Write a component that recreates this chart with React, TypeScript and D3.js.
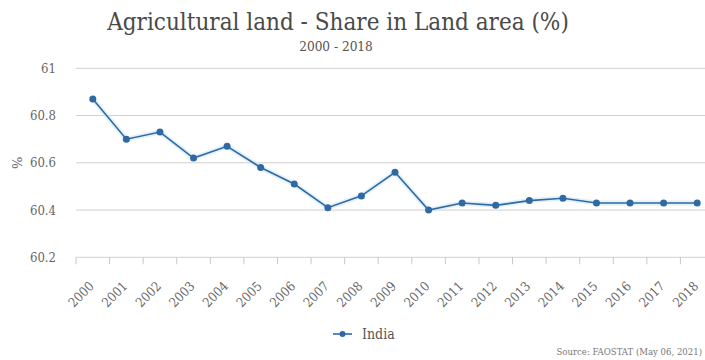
import React from "react";
import * as d3 from "d3";

const years = ["2000","2001","2002","2003","2004","2005","2006","2007","2008","2009","2010","2011","2012","2013","2014","2015","2016","2017","2018"];
const india = [60.87,60.70,60.73,60.62,60.67,60.58,60.51,60.41,60.46,60.56,60.40,60.43,60.42,60.44,60.45,60.43,60.43,60.43,60.43];
const yTicks = [60.2, 60.4, 60.6, 60.8, 61];

const W = 705, H = 360;
const FONT = "'DejaVu Serif', serif";

export default function App() {
  const x = d3.scaleBand<string>().domain(years).range([76, 714]);
  const y = d3.scaleLinear().domain([60.2, 61]).range([257.3, 68.3]);
  const line = d3.line<number>()
    .x((_, i) => (x(years[i]) as number) + x.bandwidth() / 2)
    .y((d) => y(d));
  const color = "#2f6aa3";
  const ticksX = years.map((yr) => x(yr) as number);

  return (
    <svg width={W} height={H} style={{ position: "absolute", left: 0, top: 0, background: "#fff" }}>
      <text x={338} y={30} textAnchor="middle" fontFamily={FONT} fontSize={24} fill="#4a4a4a" style={{ fontStretch: "condensed" }}>
        Agricultural land - Share in Land area (%)
      </text>
      <text x={336} y={51} textAnchor="middle" fontFamily={FONT} fontSize={13.5} fill="#555" style={{ fontStretch: "condensed" }}>
        2000 - 2018
      </text>
      {yTicks.map((t) => (
        <g key={t}>
          <line x1={76} x2={714} y1={y(t)} y2={y(t)} stroke="#d0d0d0" strokeWidth={1} />
          <text x={56} y={y(t) + 4.5} textAnchor="end" fontFamily={FONT} fontSize={13} fill="#666" style={{ fontStretch: "condensed" }}>
            {t}
          </text>
        </g>
      ))}
      {ticksX.map((tx, i) => (
        <line key={i} x1={tx} x2={tx} y1={y(60.2)} y2={y(60.2) + 7} stroke="#c8c8c8" strokeWidth={1} />
      ))}
      <text transform={`translate(22, ${y(60.6)}) rotate(-90)`} textAnchor="middle" fontFamily={FONT} fontSize={13} fill="#666">
        %
      </text>
      {years.map((yr) => {
        const cx = (x(yr) as number) + x.bandwidth() / 2 + 2;
        const cy = 287;
        return (
          <text key={yr} transform={`translate(${cx}, ${cy}) rotate(-45)`} textAnchor="end" fontFamily={FONT} fontSize={13} fill="#666" style={{ fontStretch: "condensed" }}>
            {yr}
          </text>
        );
      })}
      <path d={line(india) || ""} fill="none" stroke="#cfe6f7" strokeWidth={5} strokeOpacity={0.6} />
      <path d={line(india) || ""} fill="none" stroke={color} strokeWidth={1.6} />
      {india.map((v, i) => (
        <circle key={i} cx={(x(years[i]) as number) + x.bandwidth() / 2} cy={y(v)} r={3.5} fill={color} />
      ))}
      <g>
        <line x1={333} x2={352} y1={334} y2={334} stroke={color} strokeWidth={1.6} />
        <circle cx={342.5} cy={334} r={3} fill={color} />
        <text x={362} y={339} fontFamily={FONT} fontSize={14} fill="#555" style={{ fontStretch: "condensed" }}>
          India
        </text>
      </g>
      <text x={702} y={355} textAnchor="end" fontFamily={FONT} fontSize={9.5} fill="#777" style={{ fontStretch: "condensed" }}>
        Source: FAOSTAT (May 06, 2021)
      </text>
    </svg>
  );
}
